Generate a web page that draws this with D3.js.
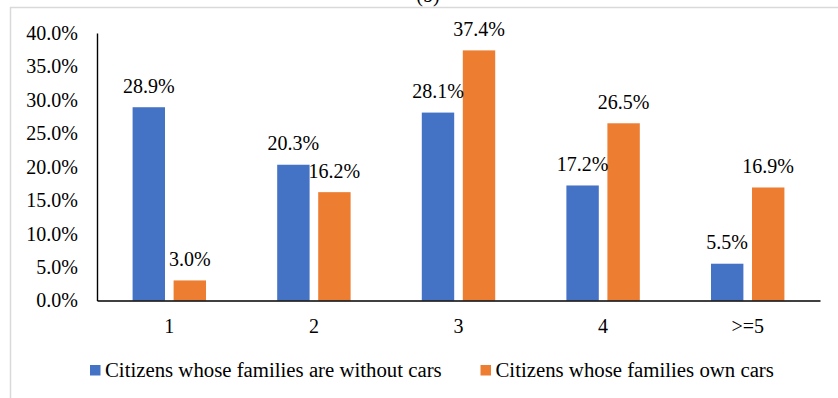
<!DOCTYPE html>
<html>
<head>
<meta charset="utf-8">
<script src="https://cdn.jsdelivr.net/npm/d3@7/dist/d3.min.js"></script>
<style>
  html, body { margin: 0; padding: 0; background: #fff; }
  svg { display: block; }
  text { font-family: "Liberation Serif", "Times New Roman", serif; fill: #000; }
</style>
</head>
<body>
<svg id="chart" width="838" height="398"></svg>
<script>
// Household size categories and share of citizens in each group (%)
const categories = ["1", "2", "3", "4", ">=5"];
const withoutCars = [28.9, 20.3, 28.1, 17.2, 5.5];
const ownCars = [3.0, 16.2, 37.4, 26.5, 16.9];
const seriesNames = ["Citizens whose families are without cars", "Citizens whose families own cars"];
const seriesColors = ["#4472C4", "#ED7D31"];
const yTicks = [0, 5, 10, 15, 20, 25, 30, 35, 40];
const panelTitle = "(b)";

const svg = d3.select("#chart");
const W = 838, H = 398;

// outer frame
svg.append("rect")
  .attr("x", 10.5).attr("y", 7.5)
  .attr("width", 860).attr("height", 420)
  .attr("fill", "none").attr("stroke", "#d9d9d9").attr("stroke-width", 1.5);

// panel title (sits above the frame)
svg.append("text")
  .attr("x", 428).attr("y", 1.5)
  .attr("text-anchor", "middle")
  .style("font-size", "20px")
  .text(panelTitle);

const plot = { left: 97, right: 820, top: 33, bottom: 300.5 };

const x = d3.scaleBand().domain(categories).range([plot.left, plot.right]);
const xSub = d3.scaleBand().domain([0, 1])
  .range([0, x.bandwidth()]).paddingInner(0.21).paddingOuter(0.868);
const y = d3.scaleLinear().domain([0, 40]).range([plot.bottom, plot.top]);

const rows = categories.map((c, i) => ({ cat: c, vals: [withoutCars[i], ownCars[i]] }));

// bars
const groups = svg.append("g").selectAll("g").data(rows).join("g")
  .attr("transform", d => `translate(${x(d.cat)},0)`);

groups.selectAll("rect")
  .data(d => d.vals.map((v, s) => ({ v, s })))
  .join("rect")
  .attr("x", d => xSub(d.s))
  .attr("width", xSub.bandwidth())
  .attr("y", d => y(d.v))
  .attr("height", d => y(0) - y(d.v))
  .attr("fill", d => seriesColors[d.s]);

// value labels
groups.selectAll("text")
  .data(d => d.vals.map((v, s) => ({ v, s })))
  .join("text")
  .attr("x", d => xSub(d.s) + xSub.bandwidth() / 2)
  .attr("y", d => y(d.v) - 14.5)
  .attr("text-anchor", "middle")
  .style("font-size", "20px")
  .text(d => d.v.toFixed(1) + "%");

// y axis
const yAxis = svg.append("g")
  .attr("transform", `translate(${plot.left},0)`)
  .call(d3.axisLeft(y).tickValues(yTicks).tickSize(0).tickPadding(19)
    .tickFormat(d => d.toFixed(1) + "%"));
yAxis.select(".domain").attr("stroke", "#000").attr("stroke-width", 1.4);
yAxis.selectAll("text").style("font-size", "20px").attr("fill", "#000");

// x axis
const xAxis = svg.append("g")
  .attr("transform", `translate(0,${plot.bottom})`)
  .call(d3.axisBottom(x).tickSize(0).tickPadding(18.5));
xAxis.select(".domain").attr("stroke", "#000").attr("stroke-width", 1.4);
xAxis.selectAll("text").style("font-size", "20px").attr("fill", "#000");

// legend
const legendX = [90, 480.5];
const legend = svg.append("g").selectAll("g").data(seriesNames).join("g")
  .attr("transform", (d, i) => `translate(${legendX[i]},365)`);
legend.append("rect")
  .attr("width", 10.5).attr("height", 10.5)
  .attr("fill", (d, i) => seriesColors[i]);
legend.append("text")
  .attr("x", 15).attr("y", 11.7)
  .style("font-size", "20.8px")
  .text(d => d);
</script>
</body>
</html>
